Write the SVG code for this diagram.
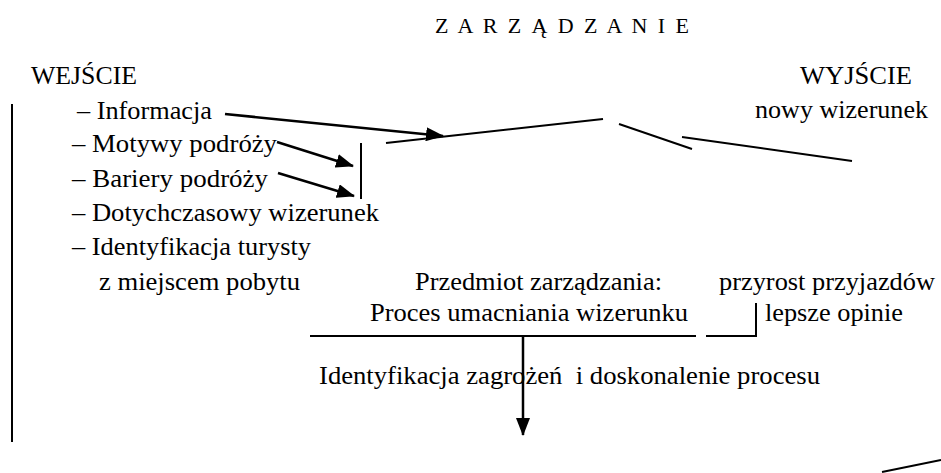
<svg xmlns="http://www.w3.org/2000/svg" width="941" height="473" viewBox="0 0 941 473">
<style>
text{font-family:"Liberation Serif","Times New Roman","DejaVu Serif",serif;font-size:25px;fill:#000}
.title{font-size:22px}
.ln{stroke:#000;stroke-width:2;fill:none}
.ar{stroke:#000;stroke-width:2.5;fill:none;marker-end:url(#ah)}
</style>
<defs>
<marker id="ah" markerUnits="userSpaceOnUse" markerWidth="18" markerHeight="14" refX="17" refY="7" orient="auto">
<path d="M0,0 L18,7 L0,14 z" fill="#000"/>
</marker>
</defs>
<g id="title"><text class="title" x="435" y="33" textLength="254" font-family="Liberation Serif, serif">Z A R Z Ą D Z A N I E</text></g>
<g id="wejscie" font-family="Liberation Serif, serif">
<text x="31" y="84" textLength="106" lengthAdjust="spacingAndGlyphs">WEJŚCIE</text>
<text x="77" y="119" textLength="135" lengthAdjust="spacingAndGlyphs">– Informacja</text>
<text x="72" y="152" textLength="205" lengthAdjust="spacingAndGlyphs">– Motywy podróży</text>
<text x="72" y="187" textLength="196" lengthAdjust="spacingAndGlyphs">– Bariery podróży</text>
<text x="72" y="221" textLength="307" lengthAdjust="spacingAndGlyphs">– Dotychczasowy wizerunek</text>
<text x="72" y="255" textLength="239" lengthAdjust="spacingAndGlyphs">– Identyfikacja turysty</text>
<text x="99" y="290" textLength="201" lengthAdjust="spacingAndGlyphs">z miejscem pobytu</text>
</g>
<g id="wyjscie">
<text x="800" y="84" textLength="112" lengthAdjust="spacingAndGlyphs">WYJŚCIE</text>
<text x="755" y="118" textLength="173" lengthAdjust="spacingAndGlyphs">nowy wizerunek</text>
</g>
<g id="przedmiot">
<text x="415" y="290" textLength="247" lengthAdjust="spacingAndGlyphs">Przedmiot zarządzania:</text>
<text x="370" y="321" textLength="318" lengthAdjust="spacingAndGlyphs">Proces umacniania wizerunku</text>
</g>
<g id="efekty">
<text x="719" y="290" textLength="216" lengthAdjust="spacingAndGlyphs">przyrost przyjazdów</text>
<text x="765" y="321" textLength="138" lengthAdjust="spacingAndGlyphs">lepsze opinie</text>
</g>
<g id="identyfikacja"><text x="319" y="384" textLength="501" lengthAdjust="spacingAndGlyphs" xml:space="preserve">Identyfikacja zagrożeń  i doskonalenie procesu</text></g>
<g id="connectors">
<line class="ln" x1="12" y1="104" x2="12" y2="442" stroke-width="1.5"/>
<line class="ar" x1="225" y1="114" x2="443" y2="136" stroke-width="3"/>
<line class="ln" x1="386" y1="143" x2="603" y2="119" stroke-width="2.5"/>
<line class="ln" x1="619" y1="124" x2="692" y2="149" stroke-width="2.5"/>
<line class="ln" x1="682" y1="137" x2="852" y2="161" stroke-width="2.5"/>
<line class="ar" x1="277" y1="142" x2="353" y2="166"/>
<line class="ar" x1="278" y1="173" x2="354" y2="196"/>
<line class="ln" x1="361" y1="143" x2="361" y2="199"/>
<line class="ln" x1="310" y1="336" x2="696" y2="336"/>
<polyline class="ln" points="706,336 756,336 756,303"/>
<line class="ar" x1="523" y1="336" x2="523" y2="435"/>
<line class="ln" x1="882" y1="472" x2="941" y2="460"/>
</g>
</svg>
